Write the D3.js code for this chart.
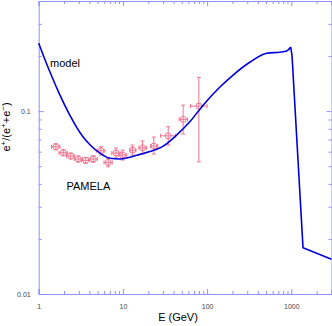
<!DOCTYPE html>
<html>
<head>
<meta charset="utf-8">
<script src="https://cdn.jsdelivr.net/npm/d3@7"></script>
<style>
  body { margin: 0; background: #fff; }
  svg { font-family: "Liberation Sans", Arial, sans-serif; }
  .axis path, .axis line { stroke: #8f8fff; }
  .axis text { fill: #444; font-size: 7px; }
</style>
</head>
<body>
<svg id="chart" width="332" height="326"></svg>
<script>
// model curve, E (GeV) and positron fraction (smooth part)
const modelE = [1, 1.22, 1.466, 1.755, 2.307, 3.32, 4.06, 5.34, 7.01, 9.2, 12.1, 15.9, 20.9, 30.1, 43.4, 62.3, 89.7,
                141, 202, 321, 511, 728, 881, 984];
const modelF = [0.235, 0.185, 0.1507, 0.1245, 0.0962, 0.0728, 0.0655, 0.0589, 0.0552, 0.0547, 0.0560, 0.0580, 0.0601,
                0.0644, 0.0739, 0.0874, 0.1078, 0.135, 0.157, 0.185, 0.207, 0.210, 0.213, 0.224];
// cutoff part (straight segments)
const cutE = [984, 1019, 1377, 3000];
const cutF = [0.224, 0.202, 0.0179, 0.0155];

// PAMELA points
const pamE    = [1.60, 1.96, 2.40, 2.95, 3.61, 4.44, 5.48, 6.69, 8.26, 9.92, 13.0, 17.1, 23.3, 34.5, 51.9, 79.7];
const pamElo  = [1.42, 1.74, 2.14, 2.63, 3.22, 3.96, 4.88, 5.96, 7.36, 8.84, 12.1, 15.5, 21.3, 28.0, 46.5, 63.5];
const pamEhi  = [1.79, 2.19, 2.68, 3.30, 4.04, 4.97, 6.13, 7.48, 9.24, 11.1, 14.3, 19.1, 26.0, 42.2, 58.5, 100];
const pamF    = [0.0638, 0.0592, 0.0568, 0.0547, 0.0538, 0.0547, 0.0607, 0.0524, 0.0590, 0.0575, 0.0612, 0.0630, 0.0644, 0.0733, 0.0901, 0.1065];
const pamFlo  = [0.0614, 0.0570, 0.0548, 0.0527, 0.0518, 0.0525, 0.0575, 0.0496, 0.0554, 0.0540, 0.0575, 0.0582, 0.0582, 0.0652, 0.0749, 0.0528];
const pamFhi  = [0.0663, 0.0615, 0.0590, 0.0568, 0.0558, 0.0570, 0.0638, 0.0551, 0.0628, 0.0612, 0.0652, 0.0686, 0.0721, 0.0821, 0.1078, 0.1528];

const xMajor = [1, 10, 100, 1000];
const yMajor = [0.01, 0.1];

const svg = d3.select("#chart");
const L = 38.7, R = 331.5, T = 1, B = 294;

const x = d3.scaleLog().domain([1, 3000]).range([L, R]);
const y = d3.scaleLog().domain([0.01, 0.4]).range([B, T]);

// minor ticks
const xMinor = [], yMinor = [];
[1, 10, 100, 1000].forEach(d => { for (let k = 2; k <= 9; k++) if (d * k <= 3000) xMinor.push(d * k); });
[0.01, 0.1].forEach(d => { for (let k = 2; k <= 9; k++) if (d * k <= 0.4) yMinor.push(d * k); });

function ax(gen, tx, ty) {
  return svg.append("g").attr("class", "axis").attr("transform", `translate(${tx},${ty})`).call(gen);
}

// bottom
ax(d3.axisBottom(x).tickValues(xMajor).tickSize(-5).tickPadding(10).tickFormat(d3.format("d")), 0, B);
ax(d3.axisBottom(x).tickValues(xMinor).tickSize(-3).tickFormat(""), 0, B).select(".domain").remove();
// top
ax(d3.axisTop(x).tickValues(xMajor).tickSize(-5).tickFormat(""), 0, T);
ax(d3.axisTop(x).tickValues(xMinor).tickSize(-3).tickFormat(""), 0, T).select(".domain").remove();
// left
ax(d3.axisLeft(y).tickValues(yMajor).tickSize(-5).tickPadding(8).tickFormat(d => d), L, 0);
ax(d3.axisLeft(y).tickValues(yMinor).tickSize(-3).tickFormat(""), L, 0).select(".domain").remove();
// right
ax(d3.axisRight(y).tickValues(yMajor).tickSize(-5).tickFormat(""), R, 0);
ax(d3.axisRight(y).tickValues(yMinor).tickSize(-3).tickFormat(""), R, 0).select(".domain").remove();

svg.selectAll(".axis path.domain").attr("stroke-width", 1);

// PAMELA
const pink = "#f07590";
const pts = pamE.map((e, i) => ({ e, lo: pamElo[i], hi: pamEhi[i], f: pamF[i], flo: pamFlo[i], fhi: pamFhi[i] }));
const g = svg.append("g").attr("stroke", pink).attr("stroke-width", 1).attr("fill", "none");
pts.forEach(p => {
  const cx = x(p.e), cy = y(p.f);
  g.append("line").attr("x1", cx).attr("x2", cx).attr("y1", y(p.fhi)).attr("y2", y(p.flo));
  g.append("line").attr("x1", x(p.lo)).attr("x2", x(p.hi)).attr("y1", cy).attr("y2", cy);
  [p.fhi, p.flo].forEach(v => g.append("line").attr("x1", cx - 2).attr("x2", cx + 2).attr("y1", y(v)).attr("y2", y(v)));
  [p.lo, p.hi].forEach(v => g.append("line").attr("x1", x(v)).attr("x2", x(v)).attr("y1", cy - 2).attr("y2", cy + 2));
  g.append("circle").attr("cx", cx).attr("cy", cy).attr("r", 3);
});

// model curve
const smooth = d3.line().x(d => x(d[0])).y(d => y(d[1])).curve(d3.curveMonotoneX);
const straight = d3.line().x(d => x(d[0])).y(d => y(d[1]));
const curveG = svg.append("g").attr("fill", "none").attr("stroke", "#0000dd")
  .attr("stroke-width", 1.6).attr("stroke-linejoin", "round");
curveG.append("path").datum(modelE.map((e, i) => [e, modelF[i]])).attr("d", smooth);
curveG.append("path").datum(cutE.map((e, i) => [e, cutF[i]])).attr("d", straight);

// labels
svg.append("text").attr("x", 50).attr("y", 67).attr("font-size", 11).text("model");
svg.append("text").attr("x", 66.5).attr("y", 189.5).attr("font-size", 11).text("PAMELA");
svg.append("text").attr("x", 178).attr("y", 321).attr("font-size", 11).attr("text-anchor", "middle").text("E (GeV)");

const yl = svg.append("text").attr("transform", "translate(10,127) rotate(-90)")
  .attr("font-size", 11).attr("text-anchor", "middle");
yl.append("tspan").text("e");
yl.append("tspan").attr("dy", -4).attr("font-size", 8).text("+");
yl.append("tspan").attr("dy", 4).text("/(e");
yl.append("tspan").attr("dy", -4).attr("font-size", 8).text("+");
yl.append("tspan").attr("dy", 4).text("+e");
yl.append("tspan").attr("dy", -4).attr("font-size", 8).text("\u2212");
yl.append("tspan").attr("dy", 4).text(")");
</script>
</body>
</html>
